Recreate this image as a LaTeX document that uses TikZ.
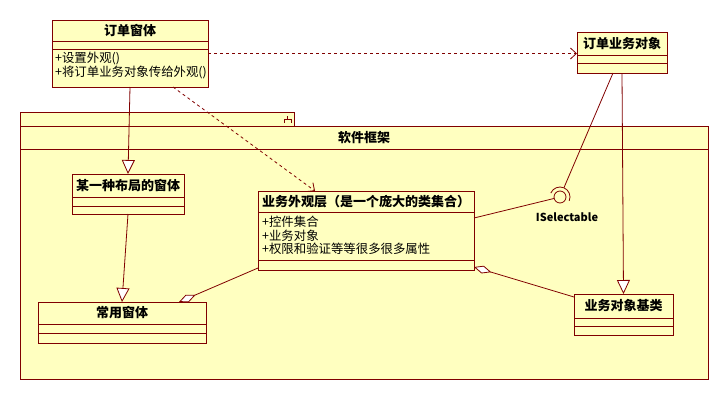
\documentclass[tikz,border=0pt]{standalone}
\usepackage{fontspec}
\setmainfont{Noto Sans CJK SC}
\usepackage{xcolor}
\usetikzlibrary{positioning,arrows.meta,calc}
\definecolor{umlline}{RGB}{128,0,0}
\definecolor{umlfill}{RGB}{255,255,192}

\begin{document}
\begin{tikzpicture}[x=1pt, y=-1pt,
  umlbox/.style={draw=umlline, fill=umlfill, line width=0.8pt, anchor=north west, inner sep=0pt, outer sep=0pt},
  umlsep/.style={draw=umlline, line width=0.8pt},
  headtext/.style={font=\bfseries\fontsize{13}{15}\selectfont, inner sep=0pt},
  attrtext/.style={font=\fontsize{12.4}{13.5}\selectfont, align=left, anchor=north west, inner sep=0pt},
  generalize/.style={draw=umlline, line width=0.8pt, -{Triangle[fill=white, length=14pt, width=13pt]}},
  depend/.style={draw=umlline, line width=0.8pt, dash pattern=on 3pt off 3pt, -{Straight Barb[length=6pt, width=11pt]}},
  aggregate/.style={draw=umlline, line width=0.8pt, -{Diamond[fill=white, length=18pt, width=8pt]}},
  aggregatestart/.style={draw=umlline, line width=0.8pt, {Diamond[fill=white, length=18pt, width=8pt]}-}]
\useasboundingbox (0,0) rectangle (728,400);

% Package
\node[umlbox, minimum width=274pt, minimum height=14pt] (pkgtab) at (20,112) {};
\node[umlbox, minimum width=688pt, minimum height=253pt] (pkg) at (20,126) {};
\draw[umlsep] ($(pkg.north west)+(0,23)$) -- ($(pkg.north east)+(0,23)$);
\node[headtext] (pkgname) at ($(pkg.north)+(0,11.5)$) {软件框架};
\draw[umlsep] ($(pkgtab.north east)+(-10,11)$) -- ++(0,-4) -- ++(7,0) -- ++(0,4)
  ($(pkgtab.north east)+(-6.5,7)$) -- ++(0,-3);

% Classes
\node[umlbox, minimum width=156pt, minimum height=67pt] (orderform) at (52,20) {};
\draw[umlsep] ($(orderform.north west)+(0,21)$) -- ($(orderform.north east)+(0,21)$);
\draw[umlsep] ($(orderform.north west)+(0,29)$) -- ($(orderform.north east)+(0,29)$);
\node[headtext] (orderformname) at ($(orderform.north)+(0,10.5)$) {订单窗体};
\node[attrtext] (orderformops) at ($(orderform.north west)+(3,32)$) {+设置外观()\\+将订单业务对象传给外观()};

\node[umlbox, minimum width=90pt, minimum height=41pt] (orderbo) at (577,32) {};
\draw[umlsep] ($(orderbo.north west)+(0,23)$) -- ($(orderbo.north east)+(0,23)$);
\draw[umlsep] ($(orderbo.north west)+(0,31)$) -- ($(orderbo.north east)+(0,31)$);
\node[headtext] (orderboname) at ($(orderbo.north)+(0,11.5)$) {订单业务对象};

\node[umlbox, minimum width=112pt, minimum height=40pt] (layoutform) at (72,174) {};
\draw[umlsep] ($(layoutform.north west)+(0,23)$) -- ($(layoutform.north east)+(0,23)$);
\draw[umlsep] ($(layoutform.north west)+(0,32)$) -- ($(layoutform.north east)+(0,32)$);
\node[headtext] (layoutformname) at ($(layoutform.north)+(0,11.5)$) {某一种布局的窗体};

\node[umlbox, minimum width=216pt, minimum height=79pt] (facade) at (258,191) {};
\draw[umlsep] ($(facade.north west)+(0,21)$) -- ($(facade.north east)+(0,21)$);
\draw[umlsep] ($(facade.north west)+(0,69)$) -- ($(facade.north east)+(0,69)$);
\node[headtext] (facadename) at ($(facade.north)+(0,10.5)$) {业务外观层（是一个庞大的类集合）};
\node[attrtext] (facadeattrs) at ($(facade.north west)+(4,25)$) {+控件集合\\+业务对象\\+权限和验证等等很多很多属性};

\node[umlbox, minimum width=168pt, minimum height=41pt] (commonform) at (38,302) {};
\draw[umlsep] ($(commonform.north west)+(0,22)$) -- ($(commonform.north east)+(0,22)$);
\draw[umlsep] ($(commonform.north west)+(0,31)$) -- ($(commonform.north east)+(0,31)$);
\node[headtext] (commonformname) at ($(commonform.north)+(0,11)$) {常用窗体};

\node[umlbox, minimum width=99pt, minimum height=41pt] (bobase) at (574,294) {};
\draw[umlsep] ($(bobase.north west)+(0,24)$) -- ($(bobase.north east)+(0,24)$);
\draw[umlsep] ($(bobase.north west)+(0,32)$) -- ($(bobase.north east)+(0,32)$);
\node[headtext] (bobasename) at ($(bobase.north)+(0,12)$) {业务对象基类};

% Interface
\node[circle, draw=umlline, fill=umlfill, line width=0.8pt, minimum size=12pt, inner sep=0pt] (iface) at (560,197) {};
\coordinate (sockettop) at ($(iface.center)+(-67:10)$);
\draw[umlsep] ($(iface.center)+(23:10)$) arc[start angle=23, end angle=-157, radius=10];
\node[font=\bfseries\fontsize{11}{13}\selectfont, inner sep=0pt] (iflabel) at (567,217) {ISelectable};

% Dependencies
\draw[depend] (orderform.east) -- (orderform.east -| orderbo.west);
\draw[depend] ([xshift=43pt]orderform.south) -- ([xshift=-51pt]facade.north);
% Generalizations
\draw[generalize] (orderform.south) -- (layoutform.north);
\draw[generalize] (layoutform.south) -- (commonform.north);
\draw[generalize] (orderbo.south) -- (bobase.north);
% Aggregations
\draw[aggregate] ([yshift=2pt]facade.south west) -- ([xshift=-27pt]commonform.north east);
\draw[aggregatestart] ([yshift=3pt]facade.south east) -- ([yshift=-3pt]bobase.north west);
% Interface links
\draw[umlsep] ([yshift=12.5pt]facade.east) -- (iface);
\draw[umlsep] ([xshift=-9pt]orderbo.south) -- (sockettop);
\end{tikzpicture}
\end{document}
